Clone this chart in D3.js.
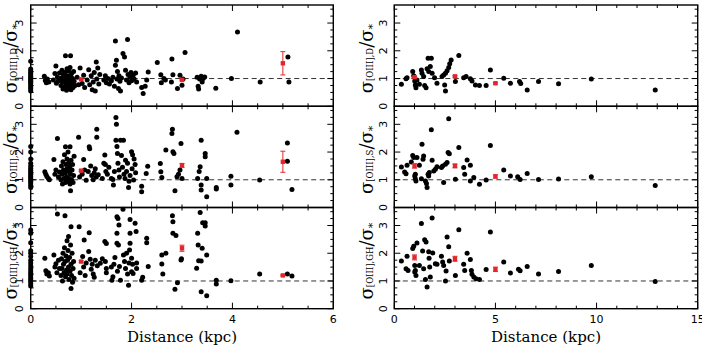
<!DOCTYPE html>
<html>
<head>
<meta charset="utf-8">
<script src="https://cdn.jsdelivr.net/npm/d3@7"></script>
<style>
  body { margin: 0; background: #fff; }
  svg { display: block; }
</style>
</head>
<body>
<svg></svg>
<script>
// sigma([OIII]) / sigma(*) against distance, two samples (left / right), three line fits (D, S, GH)

const leftD = [
  [0,0.55],[0,0.62],[0,0.68],[0,0.74],[0,0.8],[0,0.86],[0,0.9],[0,0.95],[0,1.0],[0,1.05],[0,1.1],[0,1.16],[0,1.22],[0,1.28],[0,1.34],[0,1.62],
  [0.27,1.08],[0.29,0.93],[0.31,0.85],[0.33,0.98],[0.36,0.88],
  [0.45,0.95],[0.48,1.18],[0.5,1.45],[0.51,0.83],[0.53,1.05],[0.55,0.92],[0.57,1.2],
  [0.6,0.75],[0.61,1.02],[0.62,1.3],[0.63,0.88],[0.64,0.62],[0.65,1.15],[0.66,0.95],[0.67,0.7],[0.68,1.22],[0.69,1.82],[0.69,0.85],[0.7,1.05],
  [0.71,0.58],[0.72,1.35],[0.72,0.92],[0.73,0.78],[0.74,1.1],[0.75,0.65],[0.75,1.28],[0.76,0.98],[0.77,0.86],[0.78,1.4],[0.78,0.72],[0.79,1.82],
  [0.79,1.08],[0.8,0.6],[0.8,0.9],[0.81,1.18],[0.82,0.8],[0.83,1.0],[0.84,0.68],[0.85,1.25],[0.86,0.9],[0.88,0.75],
  [0.92,1.05],[0.95,0.78],[0.98,1.38],[1.02,0.82],[1.05,1.12],[1.07,0.68],
  [1.12,0.95],[1.15,1.32],[1.17,0.78],[1.2,1.1],[1.22,0.6],[1.24,0.88],[1.26,1.22],[1.28,0.55],[1.3,1.6],[1.31,0.98],[1.33,1.38],[1.35,0.8],[1.37,1.15],
  [1.45,0.95],[1.48,1.1],[1.5,0.85],[1.53,1.0],[1.56,0.8],[1.6,0.92],
  [1.63,1.05],[1.66,0.72],[1.68,2.35],[1.68,1.48],[1.7,1.66],[1.71,0.98],[1.72,1.25],[1.74,0.64],[1.75,1.1],[1.77,0.9],[1.78,0.55],[1.8,1.02],
  [1.83,1.9],[1.86,1.78],[1.88,1.3],[1.9,0.95],[1.92,2.41],[1.93,1.15],[1.95,0.85],[1.97,1.05],[1.99,1.22],[2.0,0.92],[2.03,1.12],[2.05,0.98],[2.08,1.2],[2.1,0.88],
  [2.2,0.68],[2.23,0.46],[2.27,0.72],[2.3,0.95],[2.33,1.24],
  [2.51,1.58],[2.58,1.14],[2.59,0.85],[2.64,1.0],[2.67,0.95],
  [2.79,0.88],[2.8,1.7],[2.82,1.14],[2.91,0.64],[2.96,1.12],[3.0,0.76],[3.02,0.98],[3.06,1.94],
  [3.3,1.05],[3.32,0.72],[3.33,0.62],[3.35,0.98],[3.38,1.08],[3.4,0.88],[3.42,1.0],[3.45,1.06],
  [3.67,0.65],[3.98,1.0],[4.1,2.68],[4.55,0.88],[5.1,1.78],[5.12,0.88]
];
const leftS = [
  [0,0.72],[0,0.8],[0,0.88],[0,0.95],[0,1.02],[0,1.08],[0,1.14],[0,1.2],[0,1.27],[0,1.34],[0,1.42],[0,1.5],[0,1.6],[0,1.75],[0,2.0],[0,2.2],
  [0.28,1.29],[0.3,1.2],[0.32,1.12],[0.35,1.05],[0.37,1.0],[0.46,1.73],[0.48,1.2],[0.5,1.35],[0.53,2.49],[0.55,1.1],[0.57,1.28],
  [0.6,1.0],[0.61,1.5],[0.62,1.2],[0.63,0.85],[0.64,1.65],[0.65,1.35],[0.66,1.05],[0.67,1.9],[0.68,1.25],[0.69,2.19],[0.69,0.9],[0.7,1.55],
  [0.71,1.12],[0.72,1.75],[0.72,1.4],[0.73,0.95],[0.74,2.0],[0.75,1.3],[0.75,1.6],[0.76,1.05],[0.77,1.45],[0.78,2.19],[0.78,0.85],[0.79,0.6],
  [0.79,1.2],[0.8,1.7],[0.81,1.0],[0.82,1.35],[0.83,1.55],[0.84,0.9],[0.85,1.15],[0.86,1.85],
  [0.95,2.53],[0.97,1.1],[1.02,1.2],[1.05,1.73],[1.07,1.35],[1.1,0.98],[1.14,1.3],[1.16,2.19],[1.17,2.12],[1.19,1.5],[1.21,1.15],[1.24,1.0],
  [1.26,1.25],[1.28,1.4],[1.3,1.1],[1.31,2.82],[1.31,2.53],[1.34,1.18],
  [1.42,1.05],[1.45,1.6],[1.47,1.89],[1.48,1.55],[1.49,1.3],[1.52,1.2],[1.55,1.45],
  [1.6,1.05],[1.63,1.01],[1.64,0.81],[1.66,1.3],[1.69,3.25],[1.7,3.0],[1.69,2.43],[1.71,2.2],[1.72,1.95],[1.73,1.6],[1.75,1.35],[1.76,1.1],
  [1.78,2.43],[1.8,1.88],[1.82,1.45],[1.84,2.43],[1.85,1.2],[1.87,1.05],[1.88,1.7],[1.9,1.3],[1.92,1.6],[1.94,0.72],[1.95,0.95],[1.97,1.15],
  [2.0,2.01],[2.01,1.4],[2.02,1.9],[2.04,0.99],[2.05,1.75],[2.07,1.55],[2.08,1.25],
  [2.2,0.77],[2.2,0.57],[2.29,1.23],[2.32,1.49],
  [2.57,1.59],[2.58,1.29],[2.6,1.08],[2.68,2.07],
  [2.8,2.67],[2.81,2.82],[2.82,2.01],[2.84,1.95],[2.86,0.6],[2.9,1.11],[2.93,1.2],[2.96,1.35],[2.98,2.31],[3.0,1.05],
  [3.31,1.05],[3.34,1.3],[3.36,1.47],[3.38,2.43],[3.38,0.81],[3.38,0.63],[3.46,1.95],[3.46,1.83],[3.49,1.05],[3.49,0.39],
  [3.68,0.72],[3.68,0.67],[3.97,1.13],[3.97,0.81],[4.09,2.71],[4.54,0.99],[5.09,2.33],[5.09,1.67],[5.18,0.65]
];
const leftGH = [
  [0,0.82],[0,0.9],[0,0.98],[0,1.05],[0,1.12],[0,1.2],[0,1.28],[0,1.36],[0,1.45],[0,1.55],[0,1.65],[0,1.75],[0,1.88],[0,2.0],[0,2.09],[0,2.38],[0,2.72],[0,2.84],
  [0.28,1.82],[0.3,1.37],[0.32,1.25],[0.35,1.3],[0.37,1.18],[0.46,1.94],[0.48,1.5],[0.5,1.62],[0.52,1.3],[0.53,3.42],[0.55,1.75],[0.57,1.45],
  [0.6,1.2],[0.61,1.8],[0.62,1.45],[0.63,1.0],[0.64,2.0],[0.65,1.6],[0.66,1.3],[0.67,2.2],[0.68,3.35],[0.68,1.7],[0.69,1.15],[0.7,1.9],
  [0.71,1.4],[0.72,2.45],[0.72,1.25],[0.73,1.75],[0.74,2.1],[0.75,2.6],[0.75,1.5],[0.76,1.05],[0.77,1.85],[0.78,1.35],[0.79,2.3],[0.8,2.96],
  [0.8,0.73],[0.8,1.6],[0.81,1.2],[0.82,2.0],[0.83,0.95],[0.84,1.45],[0.85,1.7],[0.86,1.1],
  [0.96,2.96],[0.98,1.3],[1.03,1.88],[1.05,1.5],[1.06,2.48],[1.08,1.2],[1.1,1.65],
  [1.15,2.06],[1.16,2.74],[1.18,1.78],[1.2,1.42],[1.22,1.6],[1.24,1.25],[1.26,1.13],[1.28,1.75],[1.32,1.55],
  [1.38,1.64],[1.42,1.8],[1.47,2.42],[1.5,2.35],[1.48,1.7],[1.5,1.45],[1.5,1.3],
  [1.6,1.5],[1.61,1.03],[1.63,1.15],[1.65,1.6],[1.67,1.85],[1.71,3.32],[1.73,3.25],[1.75,3.02],[1.71,2.72],[1.71,2.36],[1.74,2.3],[1.76,1.52],
  [1.72,1.35],[1.78,1.03],
  [1.83,3.59],[1.84,1.94],[1.86,1.7],[1.88,1.45],[1.9,2.0],[1.92,1.25],[1.94,0.85],[1.95,1.65],[1.97,3.22],[1.97,2.72],[1.97,2.36],[1.96,2.12],
  [2.0,1.82],[2.02,1.6],[2.0,1.33],[2.03,1.27],[2.07,3.08],[2.09,2.78],[2.1,1.65],[2.1,1.45],
  [2.2,1.03],[2.22,1.13],[2.3,2.54],[2.3,2.38],[2.33,1.52],
  [2.6,1.94],[2.6,1.61],[2.62,1.25],[2.68,2.0],
  [2.81,3.35],[2.82,3.14],[2.82,2.72],[2.88,2.64],[2.86,0.7],[2.91,0.94],[2.98,1.76],[2.99,1.8],
  [3.29,1.46],[3.31,2.72],[3.32,2.3],[3.33,1.73],[3.38,1.72],[3.38,0.61],[3.36,3.47],[3.4,2.18],[3.41,3.1],[3.46,3.1],[3.46,2.98],[3.49,1.94],[3.49,0.47],
  [3.68,1.03],[3.68,0.89],[3.97,1.01],[4.54,1.25],[5.09,1.25],[5.18,1.18]
];

const rightD = [
  [0.35,0.79],[0.58,0.99],[0.63,1.03],[0.91,1.25],[0.96,1.1],[1.01,0.91],[1.04,0.77],[1.07,0.67],[1.12,0.95],[1.24,0.79],
  [1.34,1.31],[1.37,1.19],[1.45,1.07],[1.5,0.75],[1.57,0.67],[1.62,1.35],[1.67,1.73],[1.7,1.25],[1.83,1.73],[1.78,1.43],
  [1.87,1.19],[1.99,1.03],[2.11,0.83],[2.36,1.07],[2.44,1.13],[2.49,0.77],[2.53,0.55],[2.53,1.19],[2.61,1.28],[2.69,1.4],
  [2.74,1.53],[2.81,1.67],[3.02,0.89],[3.19,1.83],[3.43,1.03],[3.55,1.07],[3.76,0.99],[3.84,0.91],[4.01,0.77],[4.21,0.75],
  [4.54,0.75],[4.75,1.31],[5.41,1.01],[5.74,0.83],[6.19,0.89],[6.25,0.82],[6.57,0.59],[7.13,0.89],[8.12,0.81],[9.74,0.98],[12.9,0.59]
];
const rightS = [
  [0.35,1.46],[0.51,1.28],[0.58,1.22],[0.63,1.52],[0.84,1.64],[0.91,1.88],[0.96,1.8],[1.01,1.14],[1.04,1.04],[1.07,0.96],
  [1.04,1.2],[1.12,1.8],[1.24,1.52],[1.34,1.04],[1.37,2.28],[1.42,1.74],[1.45,1.86],[1.54,0.96],[1.59,0.87],[1.62,0.72],
  [1.67,1.2],[1.7,1.14],[1.73,1.26],[1.83,2.8],[1.87,1.7],[1.95,1.32],[2.03,1.38],[2.11,1.47],[2.33,1.44],[2.39,1.5],
  [2.44,0.9],[2.53,1.56],[2.61,1.62],[2.66,1.98],[2.72,1.94],[2.69,3.2],[3.02,1.02],[3.19,2.16],[3.43,1.44],[3.48,1.2],
  [3.6,1.71],[3.76,1.52],[3.76,0.96],[3.93,1.08],[4.21,0.84],[4.54,0.99],[4.75,2.24],[5.41,1.35],[5.74,1.14],
  [6.1,1.11],[6.22,1.01],[6.57,1.23],[7.13,1.01],[8.12,1.03],[9.74,1.11],[12.9,0.79]
];
const rightGH = [
  [0.35,1.72],[0.58,1.44],[0.63,1.89],[0.68,1.38],[0.91,2.17],[0.96,2.25],[1.01,1.56],[1.04,1.38],[1.07,1.2],[1.01,1.32],
  [1.12,2.37],[1.24,1.56],[1.34,3.07],[1.4,2.08],[1.45,1.44],[1.5,2.49],[1.57,2.41],[1.54,1.05],[1.62,0.78],[1.7,2.05],
  [1.72,1.82],[1.75,1.5],[1.78,1.14],[1.87,3.27],[1.9,2.01],[2.03,1.62],[2.11,1.6],[2.33,1.89],[2.39,1.68],[2.44,1.56],
  [2.53,1.0],[2.56,1.36],[2.61,2.59],[2.69,2.23],[2.72,1.72],[3.02,1.2],[3.19,2.85],[3.43,1.6],[3.48,1.38],[3.6,2.0],
  [3.76,1.77],[3.81,1.38],[3.84,1.24],[3.93,1.14],[4.04,1.08],[4.21,1.05],[4.54,1.41],[4.75,2.77],[5.41,1.68],[5.74,1.29],
  [6.14,1.42],[6.22,1.37],[6.57,1.52],[7.13,1.25],[8.12,1.34],[9.74,1.56],[12.9,0.98]
];

// binned means: [distance, mean, error]
const binsLeftD  = [[1,0.97,0.02],[3,0.95,0.03],[5,1.55,0.42]];
const binsLeftS  = [[1,1.33,0.03],[3,1.52,0.07],[5,1.65,0.38]];
const binsLeftGH = [[1,1.7,0.03],[3,2.18,0.11],[5,1.2,0.02]];
const binsRightD  = [[1,1.05,0.03],[3,1.08,0.03],[5,0.83,0.03]];
const binsRightS  = [[1,1.5,0.08],[3,1.5,0.07],[5,1.12,0.06]];
const binsRightGH = [[1,1.85,0.09],[3,1.8,0.09],[5,1.42,0.08]];

const fitNames = ["D", "S", "GH"];
const yTicks = [0, 1, 2, 3];
const xTicksLeft = [0, 2, 4, 6];
const xTicksRight = [0, 5, 10, 15];

const W = 702, H = 348;
const svg = d3.select("svg").attr("width", W).attr("height", H);

const rows = [[5, 106.3], [106.3, 207.5], [207.5, 308.7]];
const cols = [
  {range: [30.7, 333.3], domain: [0, 6], ticks: xTicksLeft, minor: 0.5, labelGap: 13.5,
   sets: [leftD, leftS, leftGH], bins: [binsLeftD, binsLeftS, binsLeftGH]},
  {range: [394.3, 697.7], domain: [0, 15], ticks: xTicksRight, minor: 1, labelGap: 21,
   sets: [rightD, rightS, rightGH], bins: [binsRightD, binsRightS, binsRightGH]}
];
const red = "#e3262b";

cols.forEach(function(c) {
  const x = d3.scaleLinear().domain(c.domain).range(c.range);
  const minorX = d3.range(c.domain[0], c.domain[1] + 0.001, c.minor);

  rows.forEach(function(r, i) {
    const y = d3.scaleLinear().domain([0, 3.65]).range([r[1], r[0]]);
    const g = svg.append("g");
    const x0 = c.range[0], x1 = c.range[1], y0 = r[1], y1 = r[0];

    // dashed unity line
    g.append("line")
      .attr("x1", x0).attr("x2", x1)
      .attr("y1", y(1)).attr("y2", y(1))
      .attr("stroke", "#333").attr("stroke-width", 1)
      .attr("stroke-dasharray", "5,3.5");

    // ticks on all four sides, pointing in
    const tk = g.append("g").attr("stroke", "#000").attr("stroke-width", 1);
    minorX.forEach(function(v) {
      const len = c.ticks.includes(v) ? 6 : 3;
      tk.append("line").attr("x1", x(v)).attr("x2", x(v)).attr("y1", y0).attr("y2", y0 - len);
      tk.append("line").attr("x1", x(v)).attr("x2", x(v)).attr("y1", y1).attr("y2", y1 + len);
    });
    d3.range(0, 3.6, 0.25).forEach(function(v) {
      const len = Number.isInteger(v) ? 6 : 3;
      tk.append("line").attr("y1", y(v)).attr("y2", y(v)).attr("x1", x0).attr("x2", x0 + len);
      tk.append("line").attr("y1", y(v)).attr("y2", y(v)).attr("x1", x1).attr("x2", x1 - len);
    });

    // frame
    g.append("rect")
      .attr("x", x0).attr("y", y1).attr("width", x1 - x0).attr("height", y0 - y1)
      .attr("fill", "none").attr("stroke", "#000").attr("stroke-width", 1.4);

    // y tick labels, rotated
    yTicks.forEach(function(v) {
      g.append("text")
        .attr("transform", "translate(" + (x0 - 7.4) + "," + y(v) + ") rotate(-90)")
        .attr("text-anchor", "middle")
        .attr("font-family", "DejaVu Sans, sans-serif")
        .attr("font-size", 11)
        .text(v);
    });

    // y label
    const lab = g.append("text")
      .attr("transform", "translate(" + (x0 - c.labelGap) + "," + ((y0 + y1) / 2 + 3) + ") rotate(-90)")
      .attr("text-anchor", "middle")
      .attr("font-family", "DejaVu Serif, serif");
    lab.append("tspan").attr("font-size", 18).text("σ");
    lab.append("tspan").attr("font-size", 8.5).attr("dy", 0).text("[OIII]," + fitNames[i]);
    lab.append("tspan").attr("font-size", 18).text("/");
    lab.append("tspan").attr("font-size", 18).text("σ");
    lab.append("tspan").attr("font-size", 11).attr("dy", 3).text("*");

    // points
    g.append("g").selectAll("circle")
      .data(c.sets[i])
      .enter().append("circle")
        .attr("cx", d => x(d[0]))
        .attr("cy", d => y(d[1]))
        .attr("r", 2.5)
        .attr("fill", "#000");

    // binned means with error bars
    const b = g.append("g").selectAll("g")
      .data(c.bins[i])
      .enter().append("g")
        .attr("stroke", red).attr("stroke-width", 1);
    b.append("line")
      .attr("x1", d => x(d[0])).attr("x2", d => x(d[0]))
      .attr("y1", d => y(d[1] - d[2])).attr("y2", d => y(d[1] + d[2]));
    b.append("line")
      .attr("x1", d => x(d[0]) - 2.5).attr("x2", d => x(d[0]) + 2.5)
      .attr("y1", d => y(d[1] - d[2])).attr("y2", d => y(d[1] - d[2]));
    b.append("line")
      .attr("x1", d => x(d[0]) - 2.5).attr("x2", d => x(d[0]) + 2.5)
      .attr("y1", d => y(d[1] + d[2])).attr("y2", d => y(d[1] + d[2]));
    b.append("rect")
      .attr("x", d => x(d[0]) - 2.2).attr("y", d => y(d[1]) - 2.2)
      .attr("width", 4.4).attr("height", 4.4)
      .attr("fill", red).attr("stroke", "none");
  });

  // x tick labels under the bottom panel
  const bottom = rows[2][1];
  c.ticks.forEach(function(v) {
    svg.append("text")
      .attr("x", x(v)).attr("y", bottom + 14)
      .attr("text-anchor", "middle")
      .attr("font-family", "DejaVu Sans, sans-serif")
      .attr("font-size", 11)
      .text(v);
  });
  svg.append("text")
    .attr("x", (c.range[0] + c.range[1]) / 2).attr("y", 342)
    .attr("text-anchor", "middle")
    .attr("font-family", "DejaVu Serif, serif")
    .attr("font-size", 15)
    .text("Distance (kpc)");
});
</script>
</body>
</html>
